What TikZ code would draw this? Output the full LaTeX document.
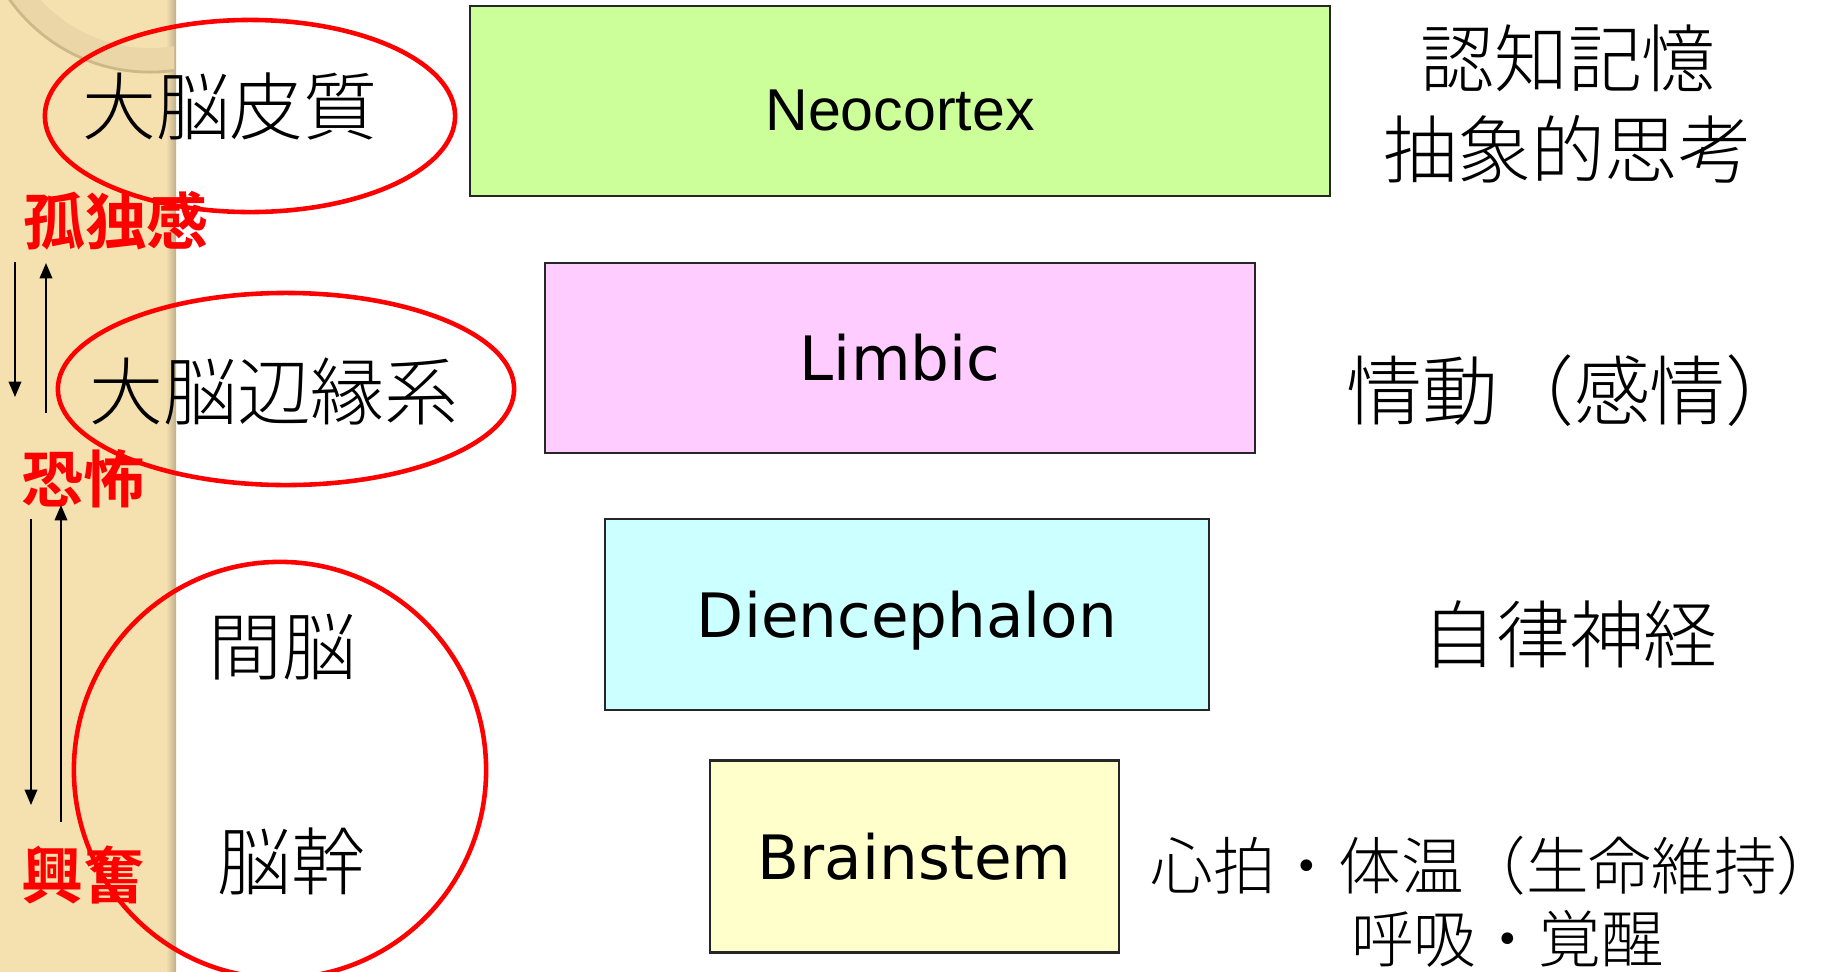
\documentclass[tikz,border=0pt]{standalone}
\usepackage{fontspec}
\newfontfamily\jpfont{Noto Sans CJK JP}[UprightFont=* Light, BoldFont=* Bold]
\newfontfamily\boxfont{DejaVu Sans}
\newfontfamily\narrowfont{Liberation Sans}
\usetikzlibrary{arrows.meta}

\definecolor{stripbg}{RGB}{245,224,176}
\definecolor{ringtan}{RGB}{234,214,166}
\definecolor{ringedge}{RGB}{205,184,136}
\definecolor{neogreen}{RGB}{204,255,153}
\definecolor{limbicpink}{RGB}{255,204,255}
\definecolor{dienccyan}{RGB}{204,255,255}
\definecolor{stemyellow}{RGB}{255,255,204}
\definecolor{markred}{RGB}{255,0,0}

\tikzset{
    layerbox/.style={draw=black!85, line width=0.7pt, inner sep=0pt, font=\boxfont\fontsize{17.4pt}{20pt}\selectfont},
    regionlabel/.style={font=\jpfont\fontsize{21pt}{25.6pt}\selectfont, inner sep=0pt},
    rolelabel/.style={font=\jpfont\fontsize{21pt}{25.6pt}\selectfont, inner sep=0pt, align=center},
    feeling/.style={font=\jpfont\bfseries\fontsize{17.6pt}{20pt}\selectfont, text=markred, inner sep=0pt},
    redring/.style={draw=markred, line width=1.3pt},
    flow/.style={line width=0.5pt, -{Triangle[length=4.4pt, width=3.6pt]}}
}

\begin{document}
\begin{tikzpicture}[x=0.01cm, y=-0.01cm]
    \useasboundingbox (0,0) rectangle (1841,972);
    % left strip
    \fill[stripbg] (0,0) rectangle (176,972);
    \shade[left color=stripbg, right color=stripbg!78!black] (166,0) rectangle (176,972);
    \begin{scope}
        \clip (0,0) rectangle (174,972);
        \fill[ringtan, even odd rule] (150,-100) circle[radius=1.72cm] (150,-100) circle[radius=1.48cm];
        \draw[ringedge, line width=0.8pt] (150,-100) circle[radius=1.72cm];
    \end{scope}

    % layers
    \node[layerbox, fill=neogreen, minimum width=8.6cm, minimum height=1.9cm, text height=16.6pt, text depth=0pt,
          font=\narrowfont\fontsize{16.8pt}{20pt}\selectfont] (neo) at (900,101) {Neocortex};
    \node[layerbox, fill=limbicpink, minimum width=7.1cm, minimum height=1.9cm] (limbic) at (900,358) {Limbic};
    \node[layerbox, fill=dienccyan, minimum width=6.04cm, minimum height=1.91cm, text height=16.6pt, text depth=3.6pt] (dienc) at (907,614.5) {Diencephalon};
    \node[layerbox, fill=stemyellow, minimum width=4.09cm, minimum height=1.92cm] (stem) at (914.5,856.5) {Brainstem};

    % region names
    \node[regionlabel] (cortex) at (230,106) {大脳皮質};
    \node[regionlabel] (limbicjp) at (274,391) {大脳辺縁系};
    \node[regionlabel] (diencjp) at (282,647) {間脳};
    \node[regionlabel] (stemjp) at (291,861) {脳幹};

    \draw[redring] (250,116) ellipse[x radius=2.05cm, y radius=0.96cm];
    \draw[redring] (286,389) ellipse[x radius=2.28cm, y radius=0.96cm];
    \draw[redring] (280,770) ellipse[x radius=2.06cm, y radius=2.08cm];

    % functions
    \node[rolelabel] (cogn) at (1568,104) {認知記憶\\抽象的思考};
    \node[rolelabel, font=\jpfont\fontsize{21.6pt}{25.6pt}\selectfont] (emot) at (1574,391) {情動（感情）};
    \node[rolelabel] (auto) at (1570,634) {自律神経};
    \node[rolelabel, align=left, anchor=west, font=\jpfont\fontsize{17.8pt}{20.8pt}\selectfont] (life) at (1150,902) {心拍・体温（生命維持）\\\hspace*{3.2em}呼吸・覚醒};

    % feelings
    \node[feeling] (lonely) at (116,221) {孤独感};
    \node[feeling] (fear) at (83,479) {恐怖};
    \node[feeling] (excite) at (83,875) {興奮};

    \coordinate (dnA) at (15,262);
    \coordinate (dnB) at (15,397);
    \coordinate (upA) at (46,413);
    \coordinate (upB) at (46,263);
    \coordinate (dnC) at (31,519);
    \coordinate (dnD) at (31,805);
    \coordinate (upC) at (61,822);
    \coordinate (upD) at (61,505);
    \draw[flow] (dnA) -- (dnB);
    \draw[flow] (upA) -- (upB);
    \draw[flow] (dnC) -- (dnD);
    \draw[flow] (upC) -- (upD);
\end{tikzpicture}
\end{document}
